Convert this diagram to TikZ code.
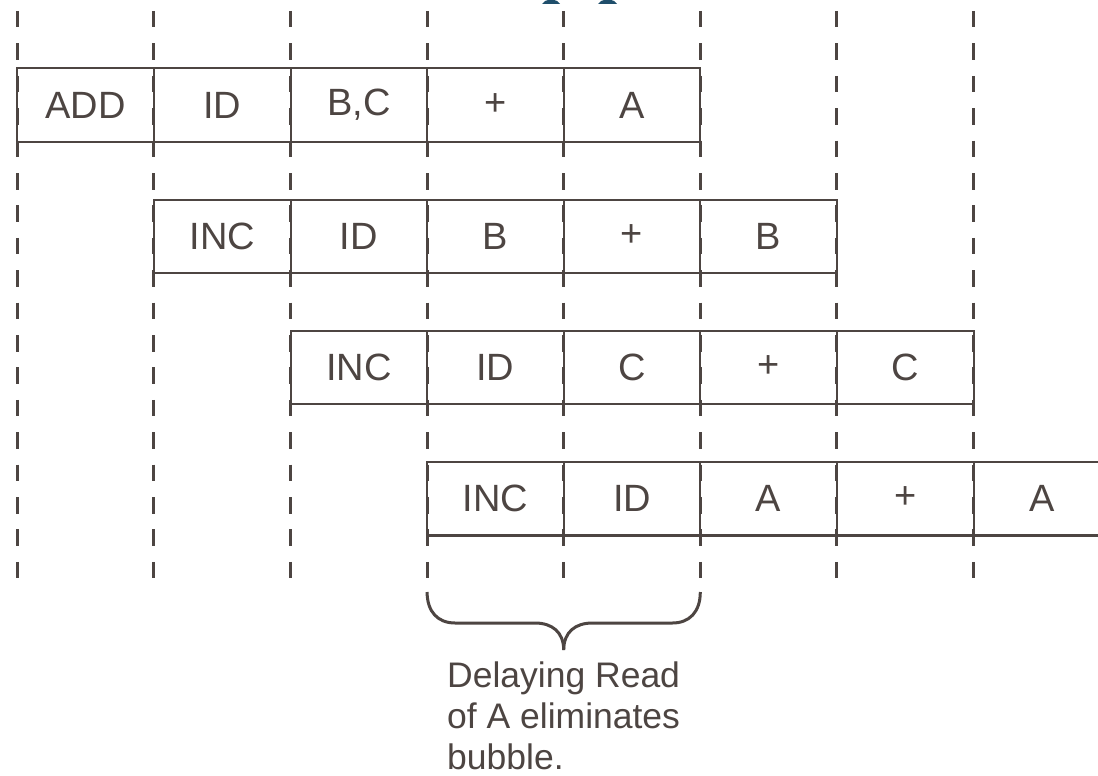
\documentclass[tikz,border=0pt]{standalone}
\usepackage{fontspec}
\setmainfont{Liberation Sans}
\definecolor{ink}{RGB}{77,69,66}
\definecolor{titleblue}{RGB}{31,78,107}
\begin{document}
\begin{tikzpicture}[x=1pt,y=-1pt,
  cell/.style={draw=ink, line width=2pt, minimum width=136.6pt, minimum height=73pt,
    inner sep=0pt, text=ink, font=\fontsize{38}{40}\selectfont},
  guide/.style={draw=ink, line width=3pt, dash pattern=on 16.5pt off 15.9pt},
  bracestyle/.style={draw=ink, line width=3pt},
  caption/.style={text=ink, align=left, inner sep=0pt, anchor=north west,
    font=\fontsize{35.5}{41}\selectfont}]
\useasboundingbox (0,0) rectangle (1098,776);
\fill[white] (0,0) rectangle (1098,776);

% cut-off title fragments at the very top
\fill[titleblue] (542,4) -- (545,1) -- (548,0) -- (554,0) -- (557,1) -- (560,4) -- cycle;
\fill[titleblue] (598,4) -- (601,1) -- (604,0) -- (611,0) -- (614,1) -- (617,4) -- cycle;

% pipeline cells
\foreach \r/\labels in {1/{ADD,ID,{B,C},+,A},2/{INC,ID,B,+,B},3/{INC,ID,C,+,C},4/{INC,ID,A,+,A}}{
  \foreach \t [count=\c] in \labels {
    \pgfmathsetmacro{\cx}{17.3+136.6*(\r+\c-2)+68.3}
    \pgfmathsetmacro{\cy}{105+131*(\r-1)}
    \node[cell] (r\r c\c) at (\cx,\cy) {\t};
  }
}
\draw[ink, line width=3pt] (r4c1.south west) -- (r4c5.south east);

% dashed guide lines
\foreach \i in {0,...,7}{
  \pgfmathsetmacro{\gx}{17.3+136.6*\i}
  \draw[guide] (\gx,11) -- (\gx,579);
}

% brace
\coordinate (bl) at (427.1,592);
\coordinate (br) at (700.3,592);
\coordinate (bt) at (563.7,650);
\draw[bracestyle] (bl) .. controls (427.1,612) and (438,623) .. (455,623) -- (535,623)
  .. controls (552,623) and (563.7,632) .. (bt);
\draw[bracestyle] (br) .. controls (700.3,612) and (689.4,623) .. (672.4,623) -- (592.4,623)
  .. controls (575.4,623) and (563.7,632) .. (bt);

\node[caption] (cap) at (447,661.5) {Delaying Read\\of A eliminates\\bubble.};
\end{tikzpicture}
\end{document}
